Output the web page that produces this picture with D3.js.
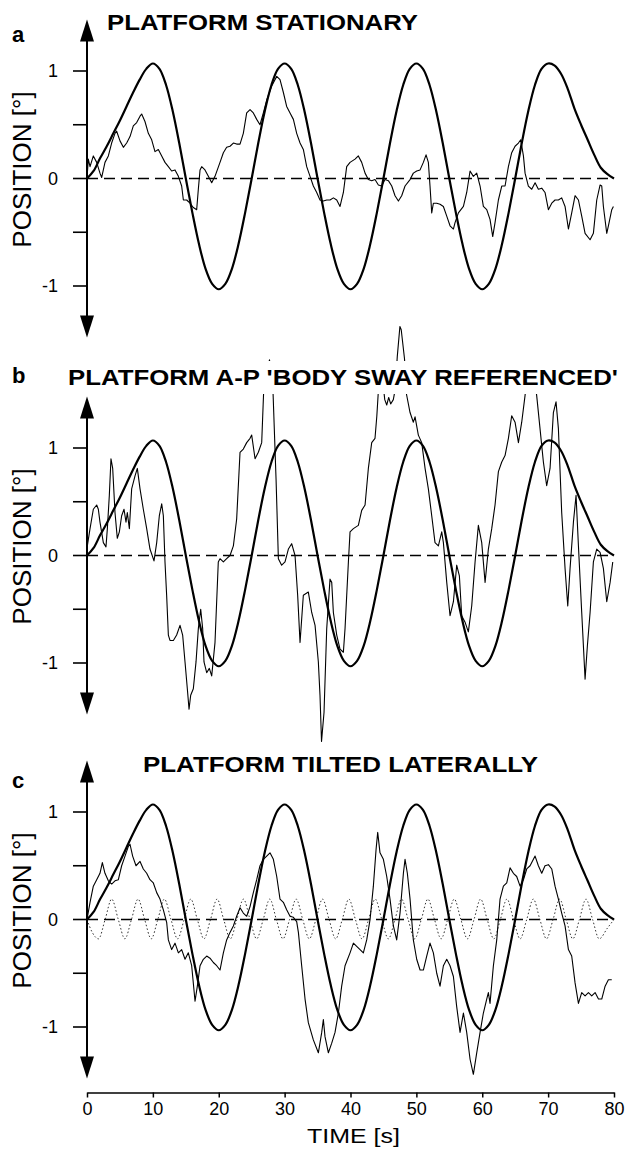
<!DOCTYPE html>
<html>
<head>
<meta charset="utf-8">
<script src="https://d3js.org/d3.v7.min.js"></script>
<style>
body { margin: 0; background: #fff; }
svg { display: block; }
</style>
</head>
<body>
<script>
// time axis
var timeTicks = [0, 10, 20, 30, 40, 50, 60, 70, 80];
var posTicks = [-1, -0.5, 0, 0.5, 1];
var posTickLabels = [[-1, "-1"], [0, "0"], [1, "1"]];

var panelLabels = ["a", "b", "c"];
var panelTitles = ["PLATFORM STATIONARY", "PLATFORM A-P 'BODY SWAY REFERENCED'", "PLATFORM TILTED LATERALLY"];

// platform / visual stimulus (same in all three panels), one value per second
var stimulus = [0, 0.07, 0.19, 0.3, 0.42, 0.54, 0.67, 0.8, 0.92, 1.02,
  1.07, 1.02, 0.87, 0.63, 0.33, 0, -0.32, -0.61, -0.84, -0.98,
  -1.03, -0.98, -0.84, -0.61, -0.32, 0, 0.33, 0.63, 0.87, 1.02,
  1.07, 1.02, 0.87, 0.63, 0.33, 0, -0.32, -0.61, -0.84, -0.98,
  -1.03, -0.98, -0.84, -0.61, -0.32, 0, 0.33, 0.63, 0.87, 1.02,
  1.07, 1.02, 0.87, 0.63, 0.33, 0, -0.32, -0.61, -0.84, -0.98,
  -1.03, -0.98, -0.84, -0.61, -0.32, 0, 0.33, 0.63, 0.87, 1.02,
  1.07, 1.05, 0.97, 0.83, 0.65, 0.5, 0.36, 0.22, 0.1, 0.04, 0];

// body sway, [time s, position deg]
var swayA = [[0,0],[0.2,0.18],[0.46,0.11],[0.96,0.21],[1.47,0.15],[1.97,0.05],[2.23,0.01],[2.73,0.15],[3.24,0.21],[3.74,0.33],
  [4.25,0.42],[4.5,0.44],[5.01,0.35],[5.52,0.29],[6.02,0.33],[6.53,0.39],[7.03,0.49],[7.54,0.52],[8.05,0.58],[8.3,0.6],
  [8.8,0.53],[9.31,0.42],[9.82,0.36],[10.32,0.25],[10.83,0.27],[11.34,0.21],[11.84,0.15],[12.35,0.11],[12.85,0.07],[13.36,0.08],
  [13.87,0.02],[14.37,-0.07],[14.63,-0.2],[15.13,-0.2],[15.64,-0.23],[16.14,-0.27],[16.65,-0.29],[16.9,-0.1],[17.16,0.08],[17.41,0.11],
  [17.91,0.08],[18.42,0.02],[18.93,-0.04],[19.43,0.02],[20.19,0.15],[20.7,0.24],[21.2,0.29],[21.71,0.3],[22.22,0.33],[22.72,0.32],
  [23.23,0.32],[23.73,0.42],[24.24,0.61],[24.75,0.64],[25.25,0.61],[25.76,0.55],[26.26,0.5],[26.77,0.61],[27.28,0.73],[28.04,0.86],
  [28.8,0.95],[29.3,0.92],[29.81,0.8],[30.31,0.67],[30.82,0.61],[31.33,0.55],[31.83,0.42],[32.34,0.33],[32.84,0.27],[33.35,0.11],
  [33.86,0.02],[34.36,-0.07],[34.87,-0.13],[35.37,-0.2],[35.88,-0.21],[36.39,-0.2],[36.89,-0.2],[37.4,-0.18],[37.91,-0.2],[38.41,-0.26],
  [38.92,-0.13],[39.42,0.11],[39.93,0.15],[40.69,0.18],[41.19,0.21],[41.7,0.15],[42.21,0.05],[42.71,-0.01],[43.22,-0.02],[43.72,-0.01],
  [44.23,-0.06],[44.74,-0.07],[45.24,-0.01],[45.75,-0.02],[46.26,-0.07],[46.76,-0.16],[47.27,-0.21],[47.77,-0.16],[48.28,-0.07],[49.04,-0.01],
  [49.54,0.05],[50.05,0.07],[50.56,0.08],[51.06,0.15],[51.47,0.22],[51.82,0.15],[52.07,-0.07],[52.33,-0.32],[52.58,-0.23],[53.09,-0.23],
  [53.59,-0.24],[54.1,-0.26],[54.61,-0.35],[55.11,-0.44],[55.62,-0.47],[55.87,-0.41],[56.38,-0.32],[57.14,-0.26],[57.64,-0.13],[58.15,0.07],
  [58.65,0.02],[59.16,0.05],[59.67,-0.07],[60.17,-0.26],[60.68,-0.29],[61.18,-0.38],[61.59,-0.54],[61.94,-0.41],[62.45,-0.2],[62.96,-0.07],
  [63.46,-0.07],[63.97,0.11],[64.47,0.24],[64.98,0.3],[65.49,0.33],[65.84,0.36],[66.25,0.21],[66.5,0.05],[67.0,-0.07],[67.51,-0.1],
  [68.02,-0.04],[68.52,-0.1],[69.03,-0.09],[69.53,-0.13],[70.04,-0.29],[70.55,-0.23],[71.05,-0.2],[71.56,-0.2],[72.06,-0.18],[72.57,-0.26],
  [73.08,-0.47],[73.58,-0.32],[74.09,-0.16],[74.6,-0.2],[75.1,-0.35],[75.61,-0.51],[76.37,-0.57],[76.87,-0.51],[77.38,-0.2],[77.89,-0.06],
  [78.14,-0.07],[78.39,-0.26],[78.9,-0.51],[79.15,-0.44],[79.66,-0.29],[79.91,-0.26]];

var swayB = [[0,0],[0.05,0.09],[0.46,0.25],[0.96,0.43],[1.47,0.47],[1.72,0.43],[1.97,0.31],[2.48,0.12],[2.88,0.08],[3.09,0.25],
  [3.39,0.56],[3.64,0.9],[3.9,0.81],[4.25,0.4],[4.6,0.16],[4.91,0.22],[5.26,0.37],[5.62,0.43],[5.92,0.31],[6.12,0.4],
  [6.43,0.25],[6.78,0.62],[7.29,0.74],[7.64,0.81],[8.05,0.62],[8.55,0.43],[9.06,0.25],[9.56,0.06],[10.17,-0.05],[10.58,0.12],
  [10.98,0.37],[11.34,0.48],[11.59,0.37],[11.84,-0.06],[12.09,-0.37],[12.35,-0.74],[12.6,-0.79],[13.11,-0.79],[13.61,-0.74],[14.12,-0.65],
  [14.52,-0.74],[14.88,-0.99],[15.23,-1.24],[15.49,-1.43],[15.74,-1.3],[16.14,-1.24],[16.55,-0.99],[16.9,-0.68],[17.26,-0.5],[17.56,-0.68],
  [17.76,-0.99],[18.17,-1.09],[18.57,-1.05],[18.93,-1.12],[19.43,-0.81],[19.93,-0.06],[20.19,-0.03],[20.7,-0.06],[21.2,-0.03],[21.71,0],
  [22.22,0.09],[22.72,0.34],[23.23,0.96],[23.73,0.99],[24.24,1.05],[24.75,1.09],[25.0,1.12],[25.51,0.9],[26.01,0.96],[26.52,1.05],
  [26.8,1.5],[27.3,1.7],[27.7,1.82],[28.0,1.7],[28.25,1.5],[28.7,0.71],[29.05,-0.03],[29.55,-0.09],[30.06,-0.06],[30.57,0.06],
  [31.07,0.11],[31.58,0],[31.98,-0.37],[32.34,-0.81],[32.84,-0.37],[33.6,-0.34],[34.11,-0.53],[34.62,-0.65],[35.12,-0.99],[35.37,-1.3],
  [35.6,-1.73],[35.98,-1.46],[36.39,-0.68],[36.89,-0.22],[37.15,-0.25],[37.4,-0.53],[37.91,-0.74],[38.41,-0.87],[38.92,-0.9],[39.17,-0.68],
  [39.68,-0.06],[39.93,0.22],[40.44,0.25],[41.19,0.28],[41.7,0.42],[42.21,0.47],[42.71,0.81],[43.22,1.05],[43.72,1.09],[44.0,1.3],
  [44.3,1.6],[44.9,1.62],[45.2,1.45],[45.5,1.4],[45.8,1.47],[46.1,1.41],[46.5,1.45],[46.8,1.55],[47.1,1.85],[47.5,2.13],
  [47.7,2.1],[48.2,1.83],[48.5,1.5],[49.04,1.33],[49.54,1.24],[49.8,1.29],[50.3,1.12],[50.81,1.05],[51.32,0.81],[51.82,0.62],
  [52.33,0.37],[52.83,0.12],[53.34,0.09],[53.85,0.22],[54.1,0.12],[54.61,-0.25],[55.11,-0.56],[55.62,-0.43],[56.12,-0.09],[56.53,-0.19],
  [56.88,-0.56],[57.39,-0.62],[57.89,-0.71],[58.4,-0.47],[58.91,-0.06],[59.41,0.28],[59.92,0.12],[60.43,-0.25],[60.93,0.06],[61.44,0.25],
  [61.94,0.47],[62.45,0.78],[62.96,0.87],[63.46,0.93],[63.97,1.09],[64.47,1.3],[64.98,1.24],[65.49,1.05],[65.99,1.24],[66.5,1.49],
  [66.9,1.7],[67.4,1.78],[67.9,1.65],[68.26,1.49],[68.77,1.18],[69.28,0.87],[69.78,0.65],[70.29,0.81],[70.8,1.33],[71.2,1.43],
  [71.56,1.18],[72.06,0.4],[72.57,-0.12],[72.98,-0.47],[73.33,-0.12],[73.84,0.31],[74.24,0.56],[74.6,0.09],[75.1,-0.53],[75.61,-1.15],
  [75.96,-0.84],[76.37,-0.53],[76.87,-0.06],[77.38,0.06],[77.89,0.03],[78.39,-0.12],[78.9,-0.43],[79.41,-0.25],[79.81,-0.06]];

var swayC = [[0,0],[0.46,0.16],[0.96,0.31],[1.47,0.37],[1.97,0.43],[2.33,0.53],[2.73,0.43],[3.24,0.36],[3.74,0.33],[4.25,0.36],
  [4.76,0.37],[5.26,0.5],[5.77,0.59],[6.28,0.68],[6.53,0.7],[6.93,0.59],[7.44,0.5],[8.05,0.54],[8.55,0.47],[9.06,0.43],
  [9.56,0.37],[10.07,0.34],[10.58,0.25],[11.08,0.19],[11.59,0.09],[12.1,-0.03],[12.35,-0.19],[12.85,-0.28],[13.36,-0.22],[13.87,-0.31],
  [14.37,-0.28],[14.88,-0.37],[15.38,-0.31],[15.89,-0.43],[16.4,-0.76],[16.75,-0.62],[17.16,-0.43],[17.66,-0.37],[18.17,-0.34],[18.67,-0.36],
  [19.18,-0.4],[19.69,-0.43],[20.19,-0.47],[20.7,-0.31],[21.2,-0.19],[21.71,-0.12],[22.22,-0.06],[22.72,0.03],[23.23,0.11],[23.73,0.06],
  [24.24,0.03],[24.75,0.12],[25.25,0.25],[25.76,0.37],[26.26,0.5],[26.77,0.56],[27.28,0.59],[27.78,0.62],[28.29,0.56],[28.8,0.4],
  [29.3,0.19],[29.81,0.16],[30.31,0.09],[30.82,0.03],[31.33,0.02],[31.83,-0.02],[32.09,-0.12],[32.59,-0.43],[33.1,-0.74],[33.6,-0.96],
  [34.36,-1.12],[35.12,-1.24],[35.63,-1.05],[35.88,-0.93],[36.13,-1.09],[36.64,-1.24],[37.15,-1.15],[37.65,-1.05],[38.16,-0.87],[38.66,-0.62],
  [39.17,-0.43],[39.93,-0.31],[40.44,-0.22],[40.94,-0.25],[41.45,-0.28],[41.95,-0.31],[42.46,-0.19],[42.97,0],[43.47,0.31],[43.88,0.65],
  [44.13,0.81],[44.48,0.62],[44.99,0.56],[45.5,0.4],[46.0,0.19],[46.51,-0.06],[47.01,-0.19],[47.52,0.06],[48.03,0.43],[48.28,0.56],
  [48.63,0.43],[49.04,0.19],[49.54,-0.19],[50.05,-0.37],[50.56,-0.47],[51.06,-0.47],[51.57,-0.34],[52.07,-0.22],[52.58,-0.31],[53.09,-0.5],
  [53.59,-0.62],[54.1,-0.43],[54.61,-0.37],[55.11,-0.43],[55.62,-0.53],[56.12,-0.81],[56.63,-1.05],[57.14,-0.87],[57.64,-1.05],[58.15,-1.3],
  [58.65,-1.44],[59.16,-1.24],[59.67,-1.05],[60.17,-0.87],[60.68,-0.74],[60.93,-0.68],[61.18,-0.78],[61.69,-0.43],[62.2,-0.19],[62.7,0.19],
  [63.21,0.31],[63.72,0.34],[64.22,0.48],[64.73,0.43],[65.23,0.4],[65.74,0.31],[66.25,0.37],[66.75,0.47],[67.26,0.5],[68.02,0.59],
  [68.52,0.5],[69.03,0.43],[69.53,0.5],[70.04,0.51],[70.55,0.47],[71.05,0.31],[71.56,0.19],[72.06,0.06],[72.57,-0.06],[73.08,-0.28],
  [73.58,-0.34],[74.09,-0.59],[74.6,-0.78],[75.1,-0.68],[75.61,-0.71],[76.12,-0.68],[76.62,-0.71],[77.13,-0.68],[77.64,-0.74],[78.14,-0.74],
  [78.65,-0.62],[79.15,-0.56],[79.66,-0.56]];

// lateral platform tilt (panel c, dotted), [time s, position deg]
var tiltC = [[0,0],[0.8,-0.12],[1.75,-0.18],[2.75,0],[3.75,0.19],[4.75,0],[5.75,-0.18],[6.75,0],[7.75,0.19],[8.75,0],
  [9.75,-0.18],[10.75,0],[11.75,0.19],[12.75,0],[13.75,-0.18],[14.75,0],[15.75,0.19],[16.75,0],[17.75,-0.18],[18.75,0],
  [19.75,0.19],[20.75,0],[21.75,-0.18],[22.75,0],[23.75,0.19],[24.75,0],[25.75,-0.18],[26.75,0],[27.75,0.19],[28.75,0],
  [29.75,-0.18],[30.75,0],[31.75,0.19],[32.75,0],[33.75,-0.18],[34.75,0],[35.75,0.19],[36.75,0],[37.75,-0.18],[38.75,0],
  [39.75,0.19],[40.75,0],[41.75,-0.18],[42.75,0],[43.75,0.19],[44.75,0],[45.75,-0.18],[46.75,0],[47.75,0.19],[48.75,0],
  [49.75,-0.18],[50.75,0],[51.75,0.19],[52.75,0],[53.75,-0.18],[54.75,0],[55.75,0.19],[56.75,0],[57.75,-0.18],[58.75,0],
  [59.75,0.19],[60.75,0],[61.75,-0.18],[62.75,0],[63.75,0.19],[64.75,0],[65.75,-0.18],[66.75,0],[67.75,0.19],[68.75,0],
  [69.75,-0.18],[70.75,0],[71.75,0.19],[72.75,0],[73.75,-0.18],[74.75,0],[75.75,0.19],[76.75,0],[77.75,-0.18],[79,-0.08],[80,0]];

var width = 629, height = 1153;

var svg = d3.select("body").append("svg")
  .attr("width", width)
  .attr("height", height);

var x = d3.scaleLinear().domain([0, 80]).range([87, 614]);

// layout of the three stacked panels
var panels = [
  {label: panelLabels[0], title: panelTitles[0], sway: swayA, tilt: null,
   zero: 178.5, titleX: 107, titleY: 30, titleW: 311, labelY: 42},
  {label: panelLabels[1], title: panelTitles[1], sway: swayB, tilt: null,
   zero: 555.5, titleX: 68, titleY: 385, titleW: 550, labelY: 383},
  {label: panelLabels[2], title: panelTitles[2], sway: swayC, tilt: tiltC,
   zero: 919.5, titleX: 143, titleY: 772, titleW: 395, labelY: 788}
];

var unit = 107.5;
var arrowEnd = 1.48;

panels.forEach(function(p) {
  var y = d3.scaleLinear()
    .domain([-1, 1])
    .range([p.zero + unit, p.zero - unit]);

  var g = svg.append("g");

  // zero reference
  g.append("line")
    .attr("x1", x(0)).attr("x2", x(80))
    .attr("y1", y(0)).attr("y2", y(0))
    .attr("stroke", "#000")
    .attr("stroke-width", 1.4)
    .attr("stroke-dasharray", "11,6");

  if (p.tilt) {
    g.append("path")
      .datum(p.tilt)
      .attr("fill", "none")
      .attr("stroke", "#333")
      .attr("stroke-width", 1)
      .attr("stroke-dasharray", "1.5,2.2")
      .attr("d", d3.line()
        .x(function(d) { return x(d[0]); })
        .y(function(d) { return y(d[1]); })
        .curve(d3.curveMonotoneX));
  }

  // body sway
  g.append("path")
    .datum(p.sway)
    .attr("fill", "none")
    .attr("stroke", "#000")
    .attr("stroke-width", 1.1)
    .attr("stroke-linejoin", "round")
    .attr("d", d3.line()
      .x(function(d) { return x(d[0]); })
      .y(function(d) { return y(d[1]); }));

  // stimulus
  g.append("path")
    .datum(stimulus)
    .attr("fill", "none")
    .attr("stroke", "#000")
    .attr("stroke-width", 2.2)
    .attr("d", d3.line()
      .x(function(d, i) { return x(i); })
      .y(function(d) { return y(d); })
      .curve(d3.curveCatmullRom));

  // title knocks out the trace behind it
  g.append("rect")
    .attr("x", p.titleX - 4)
    .attr("y", p.titleY - 24)
    .attr("width", p.titleW + 8)
    .attr("height", 33)
    .attr("fill", "#fff");

  g.append("text")
    .attr("x", p.titleX)
    .attr("y", p.titleY)
    .attr("textLength", p.titleW)
    .attr("lengthAdjust", "spacingAndGlyphs")
    .attr("font-family", "Liberation Sans, Arial, sans-serif")
    .attr("font-weight", "bold")
    .attr("font-size", 22)
    .text(p.title);

  g.append("text")
    .attr("x", 12)
    .attr("y", p.labelY)
    .attr("font-family", "Liberation Sans, Arial, sans-serif")
    .attr("font-weight", "bold")
    .attr("font-size", 22)
    .text(p.label);

  // vertical axis with arrows at both ends
  var ax = x(0);
  var yTop = y(arrowEnd), yBot = y(-arrowEnd);
  g.append("line")
    .attr("x1", ax).attr("x2", ax)
    .attr("y1", yTop + 10).attr("y2", yBot - 10)
    .attr("stroke", "#000")
    .attr("stroke-width", 2);
  g.append("path")
    .attr("d", "M" + ax + "," + yTop + "L" + (ax - 7) + "," + (yTop + 22) + "L" + (ax + 7) + "," + (yTop + 22) + "Z")
    .attr("fill", "#000");
  g.append("path")
    .attr("d", "M" + ax + "," + yBot + "L" + (ax - 7) + "," + (yBot - 22) + "L" + (ax + 7) + "," + (yBot - 22) + "Z")
    .attr("fill", "#000");

  g.selectAll("line.tick")
    .data(posTicks)
    .enter().append("line")
    .attr("class", "tick")
    .attr("x1", ax - 14).attr("x2", ax)
    .attr("y1", function(d) { return y(d); })
    .attr("y2", function(d) { return y(d); })
    .attr("stroke", "#000")
    .attr("stroke-width", 1.6);

  g.selectAll("text.ticklab")
    .data(posTickLabels)
    .enter().append("text")
    .attr("class", "ticklab")
    .attr("x", 58)
    .attr("y", function(d) { return y(d[0]); })
    .attr("dy", "0.36em")
    .attr("text-anchor", "end")
    .attr("font-family", "Liberation Sans, Arial, sans-serif")
    .attr("font-size", 18)
    .text(function(d) { return d[1]; });

  g.append("text")
    .attr("transform", "translate(31," + (p.zero - 9) + ") rotate(-90)")
    .attr("text-anchor", "middle")
    .attr("font-family", "Liberation Sans, Arial, sans-serif")
    .attr("font-size", 26)
    .text("POSITION [°]");
});

// time axis under the last panel
var xAxis = svg.append("g")
  .attr("transform", "translate(0,1092.5)")
  .call(d3.axisBottom(x).tickValues(timeTicks).tickSize(5).tickSizeOuter(0).tickPadding(5));

xAxis.select(".domain").attr("stroke-width", 1.5);
xAxis.selectAll(".tick line").attr("stroke-width", 1.5);
xAxis.selectAll(".tick text")
  .attr("font-family", "Liberation Sans, Arial, sans-serif")
  .attr("font-size", 18);

svg.append("text")
  .attr("x", 307)
  .attr("y", 1143)
  .attr("textLength", 93)
  .attr("lengthAdjust", "spacingAndGlyphs")
  .attr("font-family", "Liberation Sans, Arial, sans-serif")
  .attr("font-size", 21)
  .text("TIME [s]");
</script>
</body>
</html>
